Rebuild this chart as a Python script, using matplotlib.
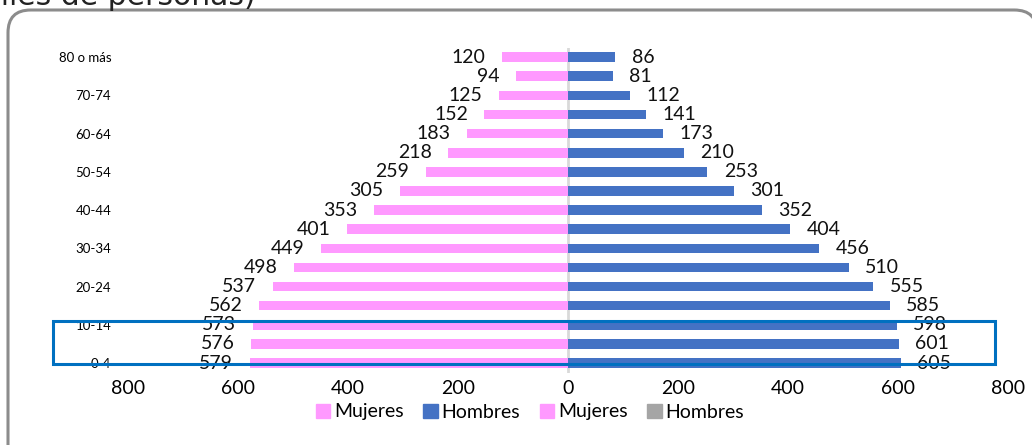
import matplotlib
matplotlib.use("Agg")
import matplotlib.pyplot as plt
from matplotlib.patches import FancyBboxPatch, Rectangle, Patch
import numpy as np

plt.rcParams['font.family'] = ['Lato', 'DejaVu Sans']

# Age groups from youngest to oldest
age_groups = ["0-4", "5-9", "10-14", "15-19", "20-24", "25-29", "30-34", "35-39",
              "40-44", "45-49", "50-54", "55-59", "60-64", "65-69", "70-74",
              "75-79", "80 o más"]
# Population in thousands
mujeres = [579, 576, 573, 562, 537, 498, 449, 401, 353, 305, 259, 218, 183, 152, 125, 94, 120]
hombres = [605, 601, 598, 585, 555, 510, 456, 404, 352, 301, 253, 210, 173, 141, 112, 81, 86]
x_ticks = [-800, -600, -400, -200, 0, 200, 400, 600, 800]
x_tick_labels = ["800", "600", "400", "200", "0", "200", "400", "600", "800"]

PINK = "#FF99FF"
BLUE = "#4472C4"
GRAY = "#A5A5A5"

W, H = 1032, 445
fig = plt.figure(figsize=(W / 100, H / 100), dpi=100)

# Rounded frame around the chart
frame = FancyBboxPatch((8 / W, -40 / H), (1037 - 8) / W, (435 + 40) / H,
                       boxstyle="round,pad=0,rounding_size=0.022",
                       transform=fig.transFigure, facecolor="white",
                       edgecolor="#8C8C8C", linewidth=2.2, mutation_aspect=W / H,
                       zorder=-5)
fig.patches.append(frame)

# Partially visible heading
fig.text(256 / W, (H - 5) / H, "(miles de personas)", ha="right", va="baseline",
         fontsize=21.5, color="#222222", family=["DejaVu Sans"])

ax = fig.add_axes([128 / W, (H - 372.6) / H, 880 / W, 325 / H])
ax.set_facecolor("none")
ax.set_zorder(2)

y = np.arange(len(age_groups))
ax.barh(y, [-v for v in mujeres], height=0.5, color=PINK)
ax.barh(y, hombres, height=0.5, color=BLUE)
ax.axvline(0, color="#D9D9D9", linewidth=2, zorder=0.5)

for yi, v in zip(y, mujeres):
    ax.text(-v - 30, yi, str(v), ha="right", va="center", fontsize=14, color="#111111")
for yi, v in zip(y, hombres):
    ax.text(v + 30, yi, str(v), ha="left", va="center", fontsize=14, color="#111111")

ax.set_xlim(-800, 800)
ax.set_ylim(-0.5, len(age_groups) - 0.5)
ax.set_xticks(x_ticks)
ax.set_xticklabels(x_tick_labels, fontsize=14)
ax.set_yticks(y[::2])
ax.set_yticklabels(age_groups[::2], fontsize=9.5)
ax.tick_params(length=0)
ax.tick_params(axis="x", pad=5)
ax.tick_params(axis="y", pad=12)
for s in ax.spines.values():
    s.set_visible(False)

# Highlight box around the youngest groups
hl = Rectangle((53 / W, (H - 364) / H), (995 - 53) / W, (364 - 321) / H,
               transform=fig.transFigure, fill=False, edgecolor="#0070C0",
               linewidth=2.2, zorder=10)
ax.add_artist(hl)
hl.set_clip_on(False)

handles = [Patch(color=PINK, label="Mujeres"), Patch(color=BLUE, label="Hombres"),
           Patch(color=PINK, label="Mujeres"), Patch(color=GRAY, label="Hombres")]
fig.legend(handles=handles, loc="center", bbox_to_anchor=(530 / W, (H - 412) / H),
           ncol=4, frameon=False, fontsize=14, handlelength=0.75, handleheight=0.75,
           handletextpad=0.2, columnspacing=1.0, borderpad=0)

fig.savefig("out.png", dpi=100)
